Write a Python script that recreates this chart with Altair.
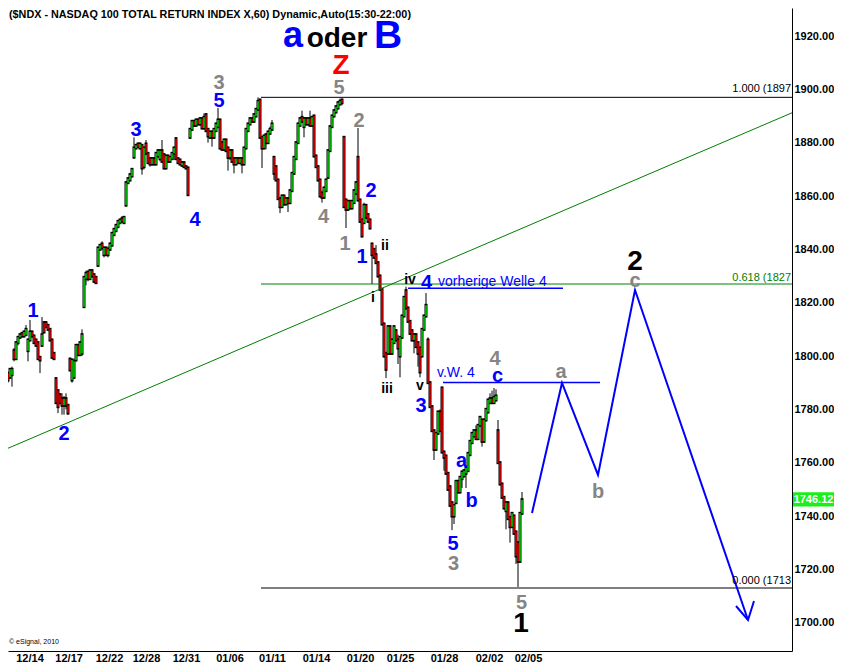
import altair as alt
import pandas as pd

FONT = "Liberation Sans"
GREEN_C = "#00d000"
RED_C = "#e00000"
BLUE = "#0000ff"
GRAY = "#858585"
FIBGREEN = "#008000"

# ---- hourly candles (open / high / low / close) ----
opens = [
    1809, 1801.5, 1791.5, 1793.5, 1792, 1793, 1802, 1799, 1805, 1807, 1808.5, 1807.5, 1808, 1802, 1806, 1809, 1807.5, 1806, 1805, 1799.5, 1804, 1812.5, 1812.5, 1811.5, 1810, 1806, 1801, 1791.5, 1787, 1785.5, 1784, 1781.5, 1784, 1781.5, 1798.8, 1791, 1792, 1798.5, 1804, 1800.5, 1801,
    1818.5, 1829, 1831.5, 1829, 1832, 1830.5, 1829.5, 1834, 1840, 1842, 1838, 1840.5, 1838, 1840, 1841.6, 1845.5, 1847, 1848.5, 1850, 1851.5, 1850, 1856.6, 1865, 1866, 1867.5, 1874.6, 1878, 1879.5, 1878, 1879, 1871, 1879.5, 1876, 1874, 1872, 1874, 1872, 1875, 1874, 1877, 1875.5, 1870.5, 1875, 1873, 1874, 1876, 1881.5, 1874, 1873.5, 1871.5, 1872.5, 1871, 1870.5,
    1882, 1885, 1888, 1886.5, 1888.5, 1887, 1889, 1885.5, 1890.5, 1885, 1882, 1884, 1882, 1884.5, 1886, 1888.5, 1880, 1877.5, 1881, 1878, 1874.5, 1877, 1874, 1872, 1874, 1872.5, 1874, 1872, 1878, 1884.5, 1887, 1889, 1888, 1890, 1892.5, 1896, 1882, 1878, 1883, 1880, 1883.5, 1885,
    1874.5, 1871, 1866, 1859, 1856, 1860, 1857, 1859, 1857.5, 1862, 1868.5, 1874, 1880, 1886.5, 1889.5, 1886, 1889, 1887, 1889, 1886.5, 1890, 1875, 1871, 1866, 1861, 1859.5, 1862, 1867, 1877, 1886, 1890, 1891.5, 1893, 1894.5, 1896,
    1882, 1858.5, 1855, 1858, 1855.5, 1857.5, 1861, 1874.5, 1858.5, 1851, 1850, 1856.5, 1853, 1851,
    1842, 1840, 1838, 1835, 1830, 1825, 1812, 1801, 1801, 1811, 1801, 1805, 1809.5, 1806, 1800, 1807, 1815, 1824.5, 1818, 1813, 1809.5, 1806, 1808, 1805, 1803, 1800, 1810, 1815, 1806, 1790, 1781, 1772,
    1765, 1771, 1779, 1788, 1764, 1762.5, 1756, 1751, 1745, 1740, 1745, 1753, 1749, 1754, 1755, 1756, 1757, 1763, 1767.5, 1770, 1772, 1769, 1774, 1776, 1768, 1776, 1779, 1782.5, 1784, 1782.5, 1783.5,
    1772, 1760, 1752, 1747, 1742, 1745, 1739.5, 1736, 1740, 1734, 1730, 1723, 1741,
]
highs = [
    1811, 1802, 1792, 1794, 1795.5, 1796, 1803, 1805.5, 1807.5, 1808.5, 1809, 1809.5, 1811.6, 1806.5, 1813.5, 1809.5, 1808, 1806.5, 1805.5, 1800, 1814.6, 1813, 1813, 1812, 1810.5, 1806.5, 1801.5, 1792, 1787.5, 1786, 1786, 1785, 1786, 1782, 1799.5, 1799, 1799, 1804.5, 1804.5, 1805.5, 1810,
    1830, 1832, 1832, 1832.5, 1832.5, 1831, 1830, 1841, 1842, 1843, 1841, 1841, 1841, 1842.5, 1846.5, 1848, 1849.5, 1851, 1851.5, 1852.5, 1852.5, 1865.5, 1867, 1868.5, 1870.5, 1882, 1879.5, 1880, 1880, 1879.5, 1878.5, 1881, 1876.5, 1874.5, 1874.5, 1874.5, 1876.5, 1877.5, 1877.5, 1881, 1876, 1875.5, 1875.5, 1875, 1876.5, 1878.5, 1882, 1874.5, 1874, 1873, 1873, 1871.5, 1871,
    1885.5, 1888.5, 1888.5, 1889, 1889, 1889.5, 1889.5, 1891, 1891, 1885.5, 1884.5, 1884.5, 1885.5, 1887.5, 1893, 1889, 1880.5, 1881.5, 1881.5, 1878.5, 1877.5, 1877.5, 1874.5, 1874.5, 1874.5, 1874.5, 1874.5, 1878.5, 1885.5, 1887.5, 1889.5, 1889.5, 1891, 1893, 1897, 1896.5, 1882.5, 1883, 1883.5, 1884.5, 1886, 1888.5,
    1875, 1871.5, 1866.5, 1859.5, 1860.5, 1860.5, 1859.5, 1859.5, 1862.5, 1869, 1875, 1880.5, 1887.5, 1889.5, 1892, 1889.5, 1889.5, 1889.5, 1892, 1890, 1890.5, 1875.5, 1871.5, 1866.5, 1862, 1863.5, 1866.5, 1877.5, 1886.5, 1890.5, 1892.5, 1894, 1895.5, 1896.5, 1896.5,
    1882.5, 1859, 1858.5, 1858.5, 1858.5, 1862.5, 1865.5, 1885.5, 1859, 1851.5, 1857.5, 1857, 1853.5, 1851.5,
    1842.5, 1840.5, 1841.6, 1835.5, 1830.5, 1825.5, 1812.5, 1801.5, 1811.5, 1811.5, 1806.5, 1811.5, 1810, 1808, 1807.5, 1815.5, 1822.5, 1826, 1818.5, 1813.5, 1810, 1808.5, 1808.5, 1805.5, 1803.5, 1810.5, 1815.5, 1823.6, 1807, 1790.5, 1781.5, 1772.5,
    1771.5, 1779.5, 1780, 1788.5, 1764.5, 1763, 1756.5, 1751.5, 1745.5, 1744.5, 1753.5, 1753.5, 1755, 1757, 1757.5, 1758.5, 1764, 1768.5, 1771.5, 1772.5, 1774, 1774.5, 1777.5, 1776.5, 1776.5, 1780.5, 1784, 1786, 1787, 1788, 1787.5,
    1776, 1760.5, 1752.5, 1747.5, 1745.5, 1745.5, 1740, 1741.5, 1740.5, 1734.5, 1730.5, 1741.5, 1749,
]
lows = [
    1797.5, 1788, 1785.5, 1790, 1791.5, 1788.5, 1798, 1798.5, 1804, 1806.5, 1807, 1807, 1807.5, 1798, 1805.5, 1807, 1804.5, 1803.5, 1798.5, 1793.6, 1803.5, 1808.5, 1810.5, 1809.5, 1805.5, 1799, 1798.5, 1782, 1778.6, 1782, 1778, 1778, 1780, 1778, 1794.5, 1790, 1791.5, 1798, 1800, 1800, 1800,
    1818, 1826.5, 1828, 1828.5, 1829.5, 1827.5, 1827, 1833.5, 1839.5, 1840, 1837, 1837.5, 1837, 1839.5, 1841, 1845, 1846.5, 1848, 1849.5, 1850, 1849.5, 1856, 1864.5, 1865.5, 1867, 1874, 1877.5, 1878, 1877.5, 1868, 1870, 1875.5, 1872, 1871, 1871.5, 1871.5, 1871.5, 1874.5, 1873, 1872.5, 1870, 1870, 1872.5, 1872.5, 1873.5, 1873.5, 1873.5, 1872, 1871.5, 1871, 1870.5, 1870, 1860,
    1881.5, 1884.5, 1886, 1886, 1886.5, 1886.5, 1885, 1885, 1884, 1880, 1881.5, 1878.5, 1881.5, 1884, 1885.5, 1877.5, 1877, 1877, 1876.5, 1869.5, 1873.5, 1872.5, 1868.5, 1871.5, 1872, 1872, 1868.5, 1871.5, 1877.5, 1884, 1886.5, 1887.5, 1887.5, 1889.5, 1892, 1881.5, 1870.5, 1877.5, 1877.5, 1879.5, 1883, 1884.5,
    1866, 1865.5, 1858.5, 1853.6, 1855.5, 1856.5, 1856.5, 1854, 1857, 1861.5, 1868, 1873.5, 1879.5, 1886, 1887.5, 1882, 1886.5, 1886.5, 1886, 1886, 1874.5, 1870.5, 1865.5, 1859.5, 1857.5, 1859, 1861.5, 1866.5, 1876.5, 1885.5, 1889.5, 1891, 1892.5, 1894, 1894,
    1855.5, 1848, 1854.5, 1855, 1855, 1857, 1860.5, 1858, 1850, 1844.5, 1849.5, 1851.5, 1850, 1847.5,
    1827, 1836.5, 1834.5, 1829.5, 1824.5, 1811.5, 1799.5, 1791.7, 1800.5, 1800.5, 1800.5, 1804.5, 1805.5, 1797, 1792, 1806.5, 1814.5, 1817.5, 1812.5, 1808, 1805.5, 1801, 1803, 1796, 1792, 1799.5, 1809.5, 1814.5, 1789.5, 1780.5, 1771.5, 1761,
    1764.5, 1770.5, 1771.5, 1763.5, 1757, 1755.5, 1749.5, 1743.5, 1734.7, 1737, 1744.5, 1748.5, 1748.5, 1750.5, 1754.5, 1750.5, 1756.5, 1762.5, 1767, 1769.5, 1768.5, 1768.5, 1773.5, 1766, 1767.5, 1775.5, 1778.5, 1782, 1782, 1782, 1783,
    1759.5, 1751.5, 1746.5, 1742.5, 1735, 1738.5, 1730, 1735.5, 1733, 1722, 1713.4, 1722.5, 1740.5,
]
closes = [
    1798.5, 1790, 1790, 1791, 1795, 1795, 1799, 1805, 1807, 1808, 1807.5, 1809, 1810, 1806, 1809, 1807.5, 1805, 1804, 1799, 1798.5, 1808, 1809, 1811, 1810, 1806, 1799.5, 1799, 1782.5, 1781, 1782.5, 1781.5, 1784, 1781.5, 1778.6, 1794.75, 1798.5, 1798, 1804, 1800.5, 1805, 1808,
    1829.5, 1831, 1829, 1832, 1830, 1828, 1827.5, 1840.5, 1841.5, 1840.5, 1840.5, 1838, 1840, 1842, 1846, 1847.5, 1849, 1850.5, 1851, 1850.5, 1852, 1865, 1866.5, 1868, 1870, 1878, 1879, 1878.5, 1879.5, 1870.5, 1878, 1876, 1872.5, 1872, 1874, 1872, 1876, 1877, 1877, 1873, 1870.5, 1875, 1873, 1874.5, 1876, 1878, 1874, 1872.5, 1872, 1872.5, 1871, 1870.5, 1860.5,
    1885, 1888, 1886.5, 1888.5, 1887, 1889, 1885.5, 1889.5, 1884.5, 1882.5, 1884, 1882, 1885, 1887, 1888.5, 1878, 1877.5, 1881, 1877, 1874.5, 1877, 1873, 1872, 1874, 1872.5, 1874, 1872, 1878, 1885, 1887, 1889, 1888, 1890.5, 1892.5, 1895.5, 1882, 1878, 1882.5, 1880, 1884, 1885, 1887,
    1868.5, 1866, 1859, 1856, 1860, 1857, 1859, 1857.5, 1862, 1868.5, 1874.5, 1880, 1887, 1889, 1888, 1889, 1887, 1889, 1886.5, 1889.5, 1875, 1871, 1866, 1860, 1859.5, 1863, 1866, 1877, 1886, 1890, 1892, 1893.5, 1895, 1895.5, 1895,
    1856, 1855, 1858, 1855.5, 1858, 1862, 1865, 1858.5, 1850.5, 1845, 1856.5, 1852, 1850.5, 1848,
    1838, 1837, 1835, 1830, 1825, 1812, 1800, 1795, 1811, 1801, 1806, 1811, 1806, 1803, 1807, 1815, 1822, 1818, 1813, 1808.5, 1806, 1808, 1803.5, 1801, 1794, 1810, 1815, 1819, 1790, 1781, 1772, 1765,
    1771, 1779, 1772, 1764, 1762, 1756, 1750, 1744, 1740, 1744, 1753, 1749, 1754.5, 1756.5, 1757, 1758, 1763.5, 1768, 1771, 1772, 1769, 1774, 1777, 1768, 1776, 1780, 1783.5, 1784, 1782.5, 1784.5, 1785,
    1760, 1752, 1747, 1743, 1745, 1739, 1736, 1741, 1733.5, 1725, 1723, 1741, 1746.12,
]

# ---- axis labels ----
date_pos = [13.75, 33.3, 53.5, 72, 92, 113.75, 135, 157, 179, 199, 221, 243.5, 263]
date_lab = ["12/14", "12/17", "12/22", "12/28", "12/31", "01/06", "01/11",
            "01/14", "01/20", "01/25", "01/28", "02/02", "02/05"]
price_ticks = [1700, 1720, 1740, 1760, 1780, 1800, 1820, 1840, 1860, 1880, 1900, 1920]

# ---- Fibonacci / reference levels ----
fib_levels = [1897, 1827, 1713]
fib_start = 129.5
trend_i = [3, 395]
trend_p = [1765.4, 1891.2]
prev4_i = [203, 280.5]
prev4_p = 1825.4
vw4_i = [220.5, 299]
vw4_p = 1790.1

# ---- projected path ----
proj_i = [265, 280, 298, 316.5, 373]
proj_p = [1741.1, 1789.9, 1755.4, 1824.75, 1701]
arrow_i = [367, 373, 376]
arrow_p = [1706.25, 1701, 1708.1]

last_price = 1746.12

# ---- wave labels ----
blue_t = ["1", "2", "3", "4", "5", "2", "1", "4", "3", "c", "a", "b", "5"]
blue_i = [15.5, 31, 67, 96.5, 108.5, 184.5, 180, 212.25, 209.5, 247.75, 229.75, 234.75, 225.5]
blue_p = [1814.6, 1768.5, 1882.5, 1848.75, 1893.4, 1859.6, 1834.9, 1825.1, 1779, 1790.25, 1758.4, 1743.4, 1727.25]

gray_t = ["3", "5", "2", "4", "1", "4", "3", "5", "a", "b", "c"]
gray_i = [108.5, 168.5, 178.5, 160.75, 171.5, 246.5, 225.75, 259.75, 279.5, 298, 316.5]
gray_p = [1900.1, 1898.25, 1885.9, 1849.9, 1839.75, 1796.6, 1719.75, 1705.1, 1791.75, 1746.75, 1825.9]

roman_t = ["ii", "i", "iii", "iv", "v"]
roman_i = [191.5, 185.5, 192.5, 204, 209]
roman_p = [1839.75, 1820.25, 1786.1, 1827, 1787.25]

big_t = ["1", "2"]
big_i = [259.5, 316.5]
big_p = [1696.5, 1832.25]

note_t = ["vorherige Welle 4", "v.W. 4"]
note_i = [218, 217.5]
note_p = [1826.25, 1792.1]

fib_t = ["1.000 (1897", "0.618 (1827", "0.000 (1713"]
fib_tp = [1899, 1828.1, 1714.5]

TITLE = "($NDX - NASDAQ 100 TOTAL RETURN INDEX X,60) Dynamic,Auto(15:30-22:00)"

# ---------------------------------------------------------------------------
# page is 842 x 672 with an 8px margin: the svg must stay within 826 x 656
PLOT_W, PLOT_H = 784, 643
Y_TOP = 1930.5
Y_BOT = Y_TOP - PLOT_H * 0.375
xs = alt.Scale(domain=[3, 395], nice=False, zero=False)
ys = alt.Scale(domain=[Y_BOT, Y_TOP], nice=False, zero=False)

label_expr = "[" + ",".join(f"'{d}'" for d in date_lab) + "][indexof([" + \
    ",".join(str(p) for p in date_pos) + "], datum.value)]"

x_axis = alt.Axis(values=date_pos, labelExpr=label_expr, orient="bottom", title=None,
                  ticks=False, grid=False, domainColor="black", domainWidth=1,
                  labelFontWeight="bold", labelFontSize=11, labelFont=FONT,
                  labelColor="black", labelPadding=1, labelFlush=False, labelOverlap=False)
y_axis = alt.Axis(values=price_ticks, format=".2f", orient="right", title=None,
                  ticks=False, grid=False, domainColor="black", domainWidth=1,
                  labelFontWeight="bold", labelFontSize=11, labelFont=FONT,
                  labelColor="black", labelPadding=2, labelFlush=False, labelOverlap=False)


def XN(f="i"):
    return alt.X(f"{f}:Q", scale=xs, axis=x_axis)


def YN(f="p"):
    return alt.Y(f"{f}:Q", scale=ys, axis=y_axis)


bars = pd.DataFrame({"i": list(range(len(closes))), "o": opens, "h": highs, "l": lows, "c": closes})

wicks = alt.Chart(bars).mark_rule(color="black", strokeWidth=1).encode(
    x=XN(), y=YN("l"), y2="h:Q")
body_out = alt.Chart(bars).mark_rule(color="black", strokeWidth=3, strokeCap="square").encode(
    x=XN(), y=YN("o"), y2="c:Q")
body_in = alt.Chart(bars).mark_rule(strokeWidth=1.6).encode(
    x=XN(), y=YN("o"), y2="c:Q",
    color=alt.when(alt.datum.c >= alt.datum.o).then(alt.value(GREEN_C)).otherwise(alt.value(RED_C)),
)


def hline(level, x0, x1, color, width=1):
    df = pd.DataFrame({"i": [x0], "i2": [x1], "p": [level]})
    return alt.Chart(df).mark_rule(color=color, strokeWidth=width).encode(x=XN(), x2="i2:Q", y=YN())


layers = [wicks, body_out, body_in]
layers += [
    hline(fib_levels[0], fib_start, 395, "black"),
    hline(fib_levels[1], fib_start, 395, FIBGREEN),
    hline(fib_levels[2], fib_start, 395, "black"),
]
trend_df = pd.DataFrame({"i": trend_i, "p": trend_p})
layers.append(alt.Chart(trend_df).mark_line(color=FIBGREEN, strokeWidth=1).encode(x=XN(), y=YN()))
layers.append(hline(prev4_p, prev4_i[0], prev4_i[1], BLUE, 1.5))
layers.append(hline(vw4_p, vw4_i[0], vw4_i[1], BLUE, 1.5))

proj_df = pd.DataFrame({"i": proj_i, "p": proj_p, "k": list(range(len(proj_i)))})
layers.append(alt.Chart(proj_df).mark_line(color=BLUE, strokeWidth=2).encode(x=XN(), y=YN(), order="k:Q"))
arr_df = pd.DataFrame({"i": arrow_i, "p": arrow_p, "k": [0, 1, 2]})
layers.append(alt.Chart(arr_df).mark_line(color=BLUE, strokeWidth=2).encode(x=XN(), y=YN(), order="k:Q"))


def texts(t, xi, yp, color, size, weight="bold", align="center", baseline="alphabetic"):
    df = pd.DataFrame({"t": t, "i": xi, "p": yp})
    return alt.Chart(df).mark_text(color=color, fontSize=size, fontWeight=weight, align=align,
                                   baseline=baseline, font=FONT).encode(x=XN(), y=YN(), text="t:N")


layers.append(texts(blue_t, blue_i, blue_p, BLUE, 20))
layers.append(texts(gray_t, gray_i, gray_p, GRAY, 20))
layers.append(texts(roman_t, roman_i, roman_p, "black", 14))
layers.append(texts(big_t, big_i, big_p, "black", 28))
layers.append(texts(note_t, note_i, note_p, BLUE, 14, weight="normal", align="left"))
layers.append(texts([fib_t[0], fib_t[2]], [394.5, 394.5], [fib_tp[0], fib_tp[2]], "black", 11,
                    weight="normal", align="right"))
layers.append(texts([fib_t[1]], [394.5], [fib_tp[1]], FIBGREEN, 11, weight="normal", align="right"))

# heading "a oder B" and "Z"
layers.append(texts(["a"], [145.5], [1915.7], BLUE, 36))
layers.append(texts(["oder"], [167.5], [1915.7], "black", 28))
layers.append(texts(["B"], [193], [1915.5], BLUE, 39))
layers.append(texts(["Z"], [169.5], [1905.8], "#ff0000", 28))

layers.append(texts([TITLE], [3.5], [1926.9], "black", 10.8, align="left"))
layers.append(texts(["\u00a9 eSignal, 2010"], [3.5], [Y_BOT + 2.5], "black", 7, weight="normal", align="left"))

# last price tag on the price axis
tag_df = pd.DataFrame({"i": [395.5], "i2": [416], "p": [last_price + 2.8], "p2": [last_price - 2.6]})
layers.append(alt.Chart(tag_df).mark_rect(color="#19f019").encode(x=XN(), x2="i2:Q", y=YN(), y2="p2:Q"))
layers.append(texts([f"{last_price:.2f}"], [405.75], [last_price], "white", 11, baseline="middle"))

chart = alt.layer(*layers).properties(
    width=PLOT_W, height=PLOT_H,
    padding={"left": 0, "top": 0, "right": 42, "bottom": 13},
    autosize=alt.AutoSizeParams(type="none"),
    background="white",
).configure_view(stroke=None)

chart.save("out.html", embed_options={"renderer": "svg", "actions": False})
